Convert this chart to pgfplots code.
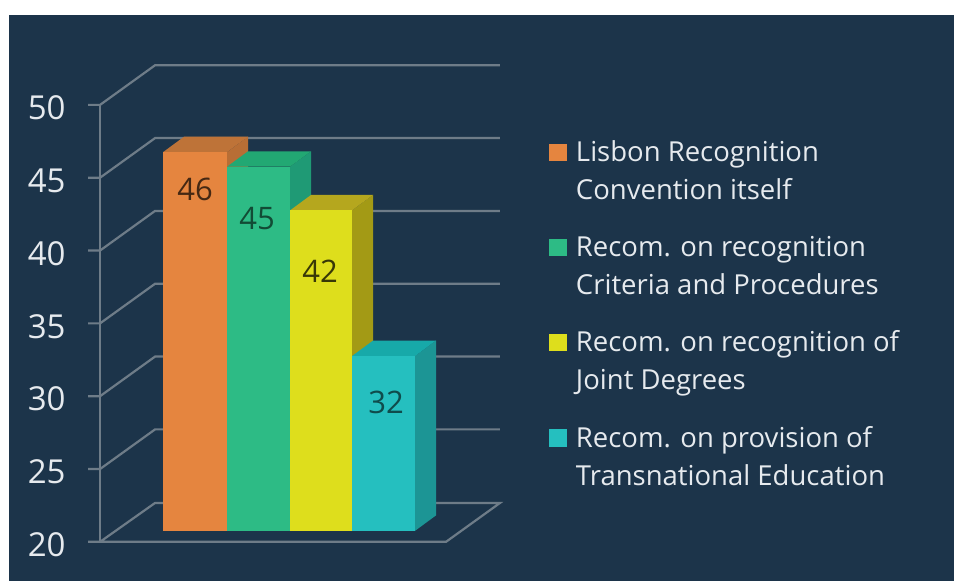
\documentclass[border=0pt]{standalone}
\usepackage{fontspec}
\setmainfont{Open Sans}
\usepackage{pgfplots}
\pgfplotsset{compat=1.18}
\definecolor{panel}{HTML}{1C344A}
\definecolor{wall}{HTML}{6E7C88}
\definecolor{txt}{HTML}{E6EAEE}
\definecolor{orF}{HTML}{E5853F}
\definecolor{orT}{HTML}{BE7338}
\definecolor{orS}{HTML}{B86E35}
\definecolor{grF}{HTML}{2DBB85}
\definecolor{grT}{HTML}{22A873}
\definecolor{grS}{HTML}{1F9A75}
\definecolor{yeF}{HTML}{DEDE1C}
\definecolor{yeT}{HTML}{B5A71E}
\definecolor{yeS}{HTML}{A39A15}
\definecolor{cyF}{HTML}{25BFBF}
\definecolor{cyT}{HTML}{17A9A9}
\definecolor{cyS}{HTML}{1C9595}
% #1 left, #2 right, #3 value, #4 #5 #6 front/top/side colours
\newcommand{\threedbar}[6]{%
  \addplot[fill=#6,draw=none,forget plot,yshift=11pt] coordinates {(#2,20)(#2,#3)(#2+21,#3+1.06)(#2+21,21.06)} --cycle;
  \addplot[fill=#5,draw=none,forget plot,yshift=11pt] coordinates {(#1,#3)(#1+21,#3+1.06)(#2+21,#3+1.06)(#2,#3)} --cycle;
  \addplot[fill=#4,draw=none,yshift=11pt] coordinates {(#1,20)(#1,#3)(#2,#3)(#2,20)} --cycle;
}
\newcommand{\wallline}[1]{%
  \addplot[wall,line width=2.2pt,forget plot] coordinates {(88,#1)(100,#1)(155,#1+2.72)(500,#1+2.72)};
}
\begin{document}
\begin{tikzpicture}
\fill[white] (0pt,0pt) rectangle (954pt,581pt);
\fill[panel] (9pt,0pt) rectangle (954pt,566pt);
\begin{axis}[
  scale only axis, width=954pt, height=581pt,
  xmin=0, xmax=954, ymin=17.32, ymax=57.2,
  clip=false,
  axis line style={draw=none},
  major tick length=0pt,
  xtick=\empty,
  ytick={20,25,...,50},
  /pgf/number format/assume math mode=true,
  yticklabel style={font=\fontsize{33}{36}\selectfont, text=txt, anchor=east, xshift=69pt, yshift=-3pt},
  legend style={at={(axis cs:549,47.69)}, anchor=north west, draw=none, fill=none,
    font=\fontsize{27.5}{38}\selectfont, text=txt, inner sep=0pt, outer sep=0pt,
    row sep=31pt, column sep=7pt, cells={align=left}},
  legend cell align=left,
  legend image code/.code={\fill[#1] (0pt,-1.5pt) rectangle (18pt,16pt);},
]
% back wall and floor
\wallline{25}\wallline{30}\wallline{35}\wallline{40}\wallline{45}\wallline{50}
\addplot[wall,line width=2.2pt,forget plot] coordinates {(100,50)(100,20)};
\addplot[wall,line width=2.2pt,forget plot] coordinates {(88,20)(446,20)(500,22.67)(155,22.67)(100,20)};

\threedbar{163}{227}{46}{orF}{orT}{orS}
\addlegendentry{Lisbon Recognition\\Convention itself}
\threedbar{227}{290}{45}{grF}{grT}{grS}
\addlegendentry{Recom. on recognition\\Criteria and Procedures}
\threedbar{290}{352}{42}{yeF}{yeT}{yeS}
\addlegendentry{Recom. on recognition of\\Joint Degrees}
\threedbar{352}{415}{32}{cyF}{cyT}{cyS}
\addlegendentry{Recom. on provision of\\Transnational Education}

\node[font=\fontsize{31}{34}\selectfont,text=black!70!orF] at (axis cs:195,44.2) {46};
\node[font=\fontsize{31}{34}\selectfont,text=black!60!grF] at (axis cs:257,42.2) {45};
\node[font=\fontsize{31}{34}\selectfont,text=black!75!yeF] at (axis cs:320,38.6) {42};
\node[font=\fontsize{31}{34}\selectfont,text=black!60!cyF] at (axis cs:386,29.6) {32};
\end{axis}
\end{tikzpicture}
\end{document}
